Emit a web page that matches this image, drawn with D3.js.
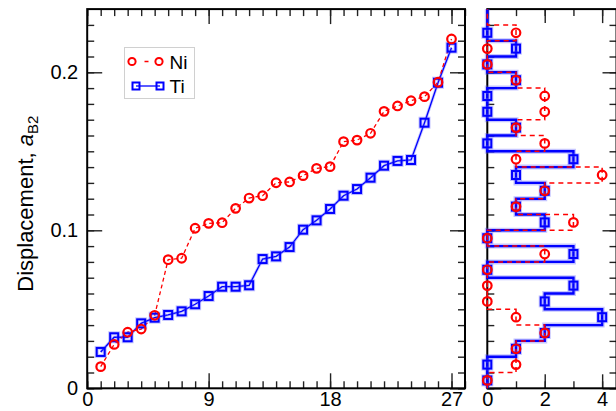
<!DOCTYPE html>
<html><head><meta charset="utf-8">
<script src="https://cdn.jsdelivr.net/npm/d3@7"></script>
<style>
html,body{margin:0;padding:0;background:#fff;}
svg{display:block;font-family:"Liberation Sans",Arial,Helvetica,sans-serif;}
</style></head>
<body>
<svg id="c" width="616" height="411"></svg>
<script>
// ---------- data ----------
const rank = d3.range(1, 28);
const niValues = [0.0137,0.0278,0.0355,0.0375,0.0462,0.0814,0.0823,0.1013,0.1044,0.1048,0.1139,0.1204,0.1219,0.1301,0.1306,0.1346,0.1392,0.1403,0.1561,0.1571,0.1614,0.1753,0.1787,0.1820,0.1846,0.1937,0.2211];
const tiValues = [0.0230,0.0323,0.0323,0.0411,0.0447,0.0464,0.0487,0.0532,0.0584,0.0643,0.0643,0.0652,0.0818,0.0835,0.0894,0.1004,0.1063,0.1135,0.1219,0.1261,0.1333,0.1409,0.1439,0.1445,0.1681,0.1934,0.2156];
const binWidth = 0.01;
const niCounts = [0,1,1,2,1,0,0,0,2,0,3,1,2,4,1,2,1,2,2,1,0,0,1];
const tiCounts = [0,0,1,2,4,2,3,0,3,0,2,1,2,1,3,0,1,0,0,1,0,1,0];
const xTickLabels = [0, 9, 18, 27];
const yTickLabels = [0, 0.1, 0.2];
const hTickLabels = [0, 2, 4];
const seriesNames = ["Ni", "Ti"];

// ---------- layout ----------
const svg = d3.select("#c");
const yTop = 9.1, yBot = 388.3;
const y = d3.scaleLinear().domain([0, 0.24]).range([yBot, yTop]);
const x = d3.scaleLinear().domain([0, 28]).range([87.2, 465]);
const h = d3.scaleLinear().domain([0, 4.5]).range([487.3, 616.5]);

const RED = "#ff0000", BLUE = "#0000ff", HALO = "rgba(90,90,255,0.35)";
const TICK = "#222";

const yMinor = d3.range(0, 24).map(i => +(i * 0.01).toFixed(2));
function addAxis(g, axis, tf) {
  const a = svg.append("g").attr("transform", tf).call(axis);
  a.select(".domain").remove();
  a.selectAll(".tick line").attr("stroke", TICK).attr("stroke-width", 1.4);
  a.selectAll(".tick text").attr("font-size", 20).attr("fill", "#000")
    .attr("font-family", "'Liberation Sans',Arial,Helvetica,sans-serif");
  return a;
}
const noLab = () => "";

// ---- left panel ticks ----
const xMinor = d3.range(0, 29);
addAxis(svg, d3.axisBottom(x).tickValues(xMinor).tickSize(-7).tickFormat(noLab), `translate(0,${yBot})`);
addAxis(svg, d3.axisBottom(x).tickValues(xTickLabels).tickSize(-15).tickPadding(18).tickFormat(d3.format("d")), `translate(0,${yBot})`)
  .selectAll(".tick text").attr("dy", "0.71em").attr("y", 4);
addAxis(svg, d3.axisTop(x).tickValues(xMinor).tickSize(-7).tickFormat(noLab), `translate(0,${yTop})`);
addAxis(svg, d3.axisTop(x).tickValues(xTickLabels).tickSize(-15).tickFormat(noLab), `translate(0,${yTop})`);

addAxis(svg, d3.axisLeft(y).tickValues(yMinor).tickSize(-7).tickFormat(noLab), `translate(${x(0)},0)`);
addAxis(svg, d3.axisLeft(y).tickValues(yTickLabels).tickSize(-15).tickPadding(24).tickFormat(d => d === 0 ? "0" : d3.format(".1f")(d)), `translate(${x(0)},0)`)
  .selectAll(".tick text").attr("x", -9);
addAxis(svg, d3.axisRight(y).tickValues(yMinor).tickSize(-7).tickFormat(noLab), `translate(${x(28)},0)`);
addAxis(svg, d3.axisRight(y).tickValues(yTickLabels).tickSize(-15).tickFormat(noLab), `translate(${x(28)},0)`);

// ---- right panel ticks ----
const hMinor = d3.range(0, 5);
addAxis(svg, d3.axisBottom(h).tickValues(hMinor).tickSize(-7).tickFormat(noLab), `translate(0,${yBot})`);
addAxis(svg, d3.axisBottom(h).tickValues(hTickLabels).tickSize(-14).tickFormat(d3.format("d")), `translate(0,${yBot})`)
  .selectAll(".tick text").attr("dy", "0.71em").attr("y", 4);
addAxis(svg, d3.axisTop(h).tickValues(hMinor).tickSize(-7).tickFormat(noLab), `translate(0,${yTop})`);
addAxis(svg, d3.axisTop(h).tickValues(hTickLabels).tickSize(-14).tickFormat(noLab), `translate(0,${yTop})`);
addAxis(svg, d3.axisLeft(y).tickValues(yMinor).tickSize(-7).tickFormat(noLab), `translate(${h(0)},0)`);
addAxis(svg, d3.axisLeft(y).tickValues(yTickLabels).tickSize(-14).tickFormat(noLab), `translate(${h(0)},0)`);
addAxis(svg, d3.axisRight(y).tickValues(yMinor).tickSize(-7).tickFormat(noLab), `translate(${h(4.5)},0)`);
addAxis(svg, d3.axisRight(y).tickValues(yTickLabels).tickSize(-14).tickFormat(noLab), `translate(${h(4.5)},0)`);

// frames
svg.append("rect").attr("x", x(0)).attr("y", yTop).attr("width", x(28) - x(0)).attr("height", yBot - yTop)
  .attr("fill", "none").attr("stroke", "#000").attr("stroke-width", 2);
svg.append("rect").attr("x", h(0)).attr("y", yTop).attr("width", h(4.5) - h(0)).attr("height", yBot - yTop)
  .attr("fill", "none").attr("stroke", "#000").attr("stroke-width", 2);

// ---------- left panel series ----------
const line = d3.line().x(d => x(d[0])).y(d => y(d[1]));
const tiPts = rank.map((r, i) => [r, tiValues[i]]);
const niPts = rank.map((r, i) => [r, niValues[i]]);

svg.append("path").attr("d", line(tiPts)).attr("fill", "none").attr("stroke", HALO).attr("stroke-width", 3);
svg.append("path").attr("d", line(tiPts)).attr("fill", "none").attr("stroke", BLUE).attr("stroke-width", 1.3);
svg.append("path").attr("d", line(niPts)).attr("fill", "none").attr("stroke", RED).attr("stroke-width", 1.3).attr("stroke-dasharray", "4,3");

function squares(g, pts, sx, sy, s) {
  g.selectAll(null).data(pts).enter().append("rect")
    .attr("x", d => sx(d[0]) - s / 2).attr("y", d => sy(d[1]) - s / 2).attr("width", s).attr("height", s)
    .attr("fill", "none").attr("stroke", HALO).attr("stroke-width", 4);
  g.selectAll(null).data(pts).enter().append("rect")
    .attr("x", d => sx(d[0]) - s / 2).attr("y", d => sy(d[1]) - s / 2).attr("width", s).attr("height", s)
    .attr("fill", "none").attr("stroke", BLUE).attr("stroke-width", 2);
}
function circles(g, pts, sx, sy, r) {
  g.selectAll(null).data(pts).enter().append("circle")
    .attr("cx", d => sx(d[0])).attr("cy", d => sy(d[1])).attr("r", r)
    .attr("fill", "none").attr("stroke", RED).attr("stroke-width", 2.2);
}
const gL = svg.append("g");
squares(gL, tiPts, x, y, 8);
circles(gL, niPts, x, y, 4.3);

// ---------- right panel histograms ----------
function stepPoints(counts) {
  const pts = [[0, 0]];
  counts.forEach((c, i) => { pts.push([c, i * binWidth]); pts.push([c, (i + 1) * binWidth]); });
  pts.push([0, counts.length * binWidth]);
  pts.push([0, y.domain()[1]]);
  return pts;
}
const hline = d3.line().x(d => h(d[0])).y(d => y(d[1]));
svg.append("path").attr("d", hline(stepPoints(tiCounts))).attr("fill", "none").attr("stroke", HALO).attr("stroke-width", 5);
svg.append("path").attr("d", hline(stepPoints(tiCounts))).attr("fill", "none").attr("stroke", BLUE).attr("stroke-width", 2.4);
svg.append("path").attr("d", hline(stepPoints(niCounts))).attr("fill", "none").attr("stroke", RED).attr("stroke-width", 1.5).attr("stroke-dasharray", "5,4");

const tiH = tiCounts.map((c, i) => [c, (i + 0.5) * binWidth]);
const niH = niCounts.map((c, i) => [c, (i + 0.5) * binWidth]);
const gR = svg.append("g");
squares(gR, tiH, h, y, 8);
circles(gR, niH, h, y, 4.3);

// ---------- legend ----------
const lg = svg.append("g");
lg.append("rect").attr("x", 124.5).attr("y", 47.5).attr("width", 70).attr("height", 51)
  .attr("fill", "#fff").attr("stroke", "#d0d0d0").attr("stroke-width", 1);
const legY = [61.5, 86];
lg.append("line").attr("x1", 132).attr("x2", 159).attr("y1", legY[0]).attr("y2", legY[0])
  .attr("stroke", RED).attr("stroke-width", 1.3).attr("stroke-dasharray", "0,12.5,4,20");
lg.selectAll(null).data([132, 159]).enter().append("circle").attr("cx", d => d).attr("cy", legY[0]).attr("r", 3.6)
  .attr("fill", "none").attr("stroke", RED).attr("stroke-width", 2);
lg.append("line").attr("x1", 136).attr("x2", 160).attr("y1", legY[1]).attr("y2", legY[1])
  .attr("stroke", BLUE).attr("stroke-width", 1.3);
lg.selectAll(null).data([136, 160]).enter().append("rect").attr("x", d => d - 3.5).attr("y", legY[1] - 3.5)
  .attr("width", 7).attr("height", 7).attr("fill", "none").attr("stroke", BLUE).attr("stroke-width", 2);
lg.selectAll(null).data(seriesNames).enter().append("text")
  .attr("x", 169.5).attr("y", (d, i) => legY[i] + 7).attr("font-size", 19).attr("fill", "#000").text(d => d);

// ---------- y title ----------
const t = svg.append("text").attr("transform", `translate(33,${(yTop + yBot) / 2 + 5}) rotate(-90)`)
  .attr("text-anchor", "middle").attr("font-size", 22).attr("fill", "#000");
t.append("tspan").text("Displacement, ");
t.append("tspan").attr("font-style", "italic").text("a");
t.append("tspan").attr("font-size", 15).attr("dy", 5).text("B2");
</script>
</body></html>
